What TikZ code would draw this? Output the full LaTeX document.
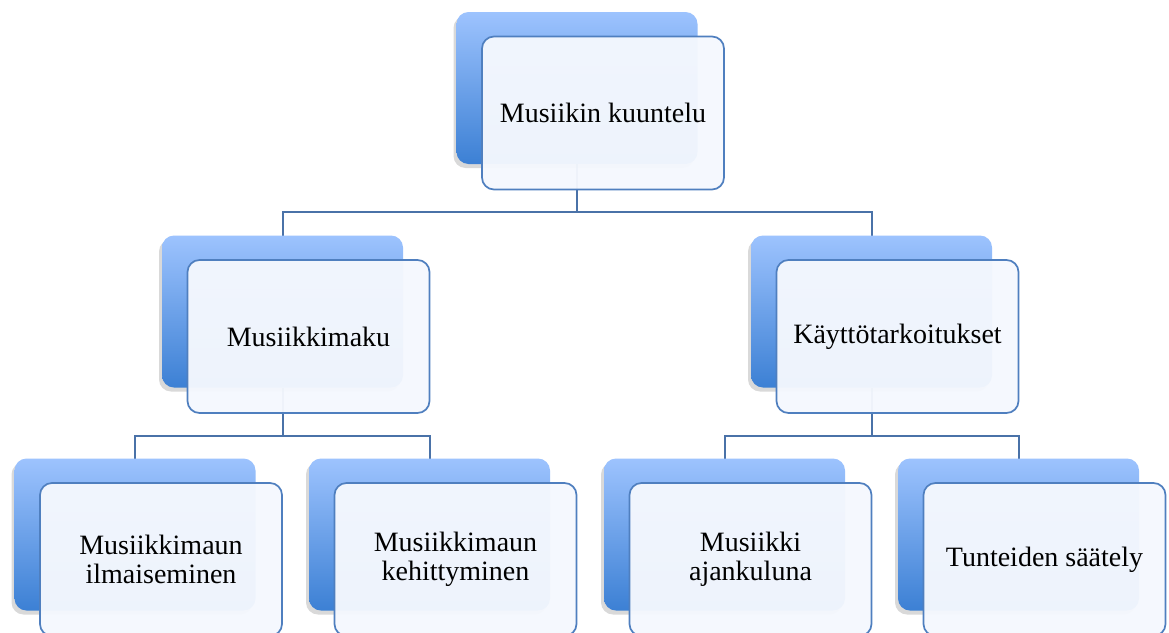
\documentclass[tikz,border=0pt]{standalone}
\usepackage{fontspec}
\setmainfont{Liberation Serif}
\usetikzlibrary{shadows}
\definecolor{backtop}{HTML}{9DC3FE}
\definecolor{backmid}{HTML}{88B4F5}
\definecolor{backbot}{HTML}{3C80D4}
\definecolor{frontfill}{HTML}{F5F8FE}
\definecolor{frontline}{HTML}{4F7FBF}
\definecolor{connline}{HTML}{4A72A8}
\begin{document}
\begin{tikzpicture}[x=1pt,y=-1pt,
  backbox/.style={rectangle, rounded corners=12pt, minimum width=241pt, minimum height=152pt,
    top color=backtop, middle color=backmid, bottom color=backbot, draw=none,
    drop shadow={shadow xshift=-3pt, shadow yshift=-4pt, opacity=0.15, fill=black}},
  frontbox/.style={rectangle, rounded corners=12pt, minimum width=242pt, minimum height=153pt,
    fill=frontfill, fill opacity=0.96, text opacity=1,
    draw=frontline, draw opacity=1, line width=1.7pt, align=center, font=\fontsize{28}{29}\selectfont},
  conn/.style={draw=connline, line width=2pt}]
\useasboundingbox (0,0) rectangle (1169,632);
\clip (0,0) rectangle (1169,632);
\fill[white] (0,0) rectangle (1169,632);
\coordinate (p1) at (577,88);
\coordinate (p2) at (282.5,311.5);
\coordinate (p3) at (871.5,311.5);
\coordinate (p4) at (135,534.5);
\coordinate (p5) at (429.5,534.5);
\coordinate (p6) at (724.5,534.5);
\coordinate (p7) at (1018.5,534.5);
% connectors
\draw[conn] ([yshift=-76pt]p1) -- ++(0,48) -| ([yshift=76pt]p2);
\draw[conn] ([yshift=-76pt]p1) -- ++(0,48) -| ([yshift=76pt]p3);
\draw[conn] ([yshift=-76pt]p2) -- ++(0,48) -| ([yshift=76pt]p4);
\draw[conn] ([yshift=-76pt]p2) -- ++(0,48) -| ([yshift=76pt]p5);
\draw[conn] ([yshift=-76pt]p3) -- ++(0,48) -| ([yshift=76pt]p6);
\draw[conn] ([yshift=-76pt]p3) -- ++(0,48) -| ([yshift=76pt]p7);
% nodes
\node[backbox] (b1) at (p1) {};
\node[frontbox] (f1) at ([xshift=26pt,yshift=-25pt]b1.center) {Musiikin kuuntelu};
\node[backbox] (b2) at (p2) {};
\node[frontbox] (f2) at ([xshift=26pt,yshift=-25pt]b2.center) {Musiikkimaku};
\node[backbox] (b3) at (p3) {};
\node[frontbox] (f3) at ([xshift=26pt,yshift=-25pt]b3.center) {Käyttötarkoitukset};
\node[backbox] (b4) at (p4) {};
\node[frontbox] (f4) at ([xshift=26pt,yshift=-25pt]b4.center) {Musiikkimaun\\ilmaiseminen};
\node[backbox] (b5) at (p5) {};
\node[frontbox] (f5) at ([xshift=26pt,yshift=-25pt]b5.center) {Musiikkimaun\\kehittyminen};
\node[backbox] (b6) at (p6) {};
\node[frontbox] (f6) at ([xshift=26pt,yshift=-25pt]b6.center) {Musiikki\\ajankuluna};
\node[backbox] (b7) at (p7) {};
\node[frontbox] (f7) at ([xshift=26pt,yshift=-25pt]b7.center) {Tunteiden säätely};
\end{tikzpicture}
\end{document}
